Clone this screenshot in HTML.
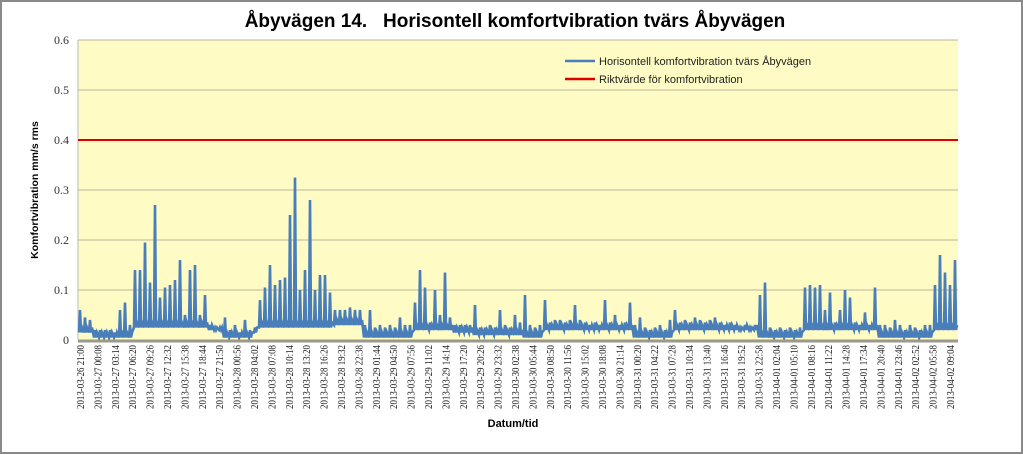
<!DOCTYPE html>
<html><head><meta charset="utf-8"><style>
html,body{margin:0;padding:0;background:#fff}
svg{display:block;font-family:"Liberation Sans",sans-serif}
</style></head><body>
<svg id="chart" width="1023" height="455" viewBox="0 0 1023 455" xmlns="http://www.w3.org/2000/svg">
<rect x="1" y="1" width="1021" height="452" fill="#fff" stroke="#8a8a8a" stroke-width="2"/>
<text x="515" y="27" text-anchor="middle" font-size="19" font-weight="bold" fill="#000" xml:space="preserve">Åbyvägen 14.   Horisontell komfortvibration tvärs Åbyvägen</text>
<rect x="78" y="40" width="880" height="300" fill="#fefcc4"/>
<g id="grid"></g>
<g id="yticks"></g>
<g id="xticks"></g>
<g id="series"></g>
<text transform="translate(38,190) rotate(-90)" text-anchor="middle" font-size="10.5" font-weight="bold" fill="#000">Komfortvibration mm/s rms</text>
<text x="513" y="427" text-anchor="middle" font-size="11" font-weight="bold" fill="#000">Datum/tid</text>
<g>
<line x1="565" y1="61" x2="595" y2="61" stroke="#4a7ebb" stroke-width="2.5"/>
<text x="599" y="65" font-size="11" fill="#222">Horisontell komfortvibration tvärs Åbyvägen</text>
<line x1="565" y1="79" x2="595" y2="79" stroke="#e00000" stroke-width="2.5"/>
<text x="599" y="83" font-size="11" fill="#222">Riktvärde för komfortvibration</text>
</g>
</svg>
<script>
const yTicks = [0, 0.1, 0.2, 0.3, 0.4, 0.5, 0.6];
const yTickLabels = ["0", "0.1", "0.2", "0.3", "0.4", "0.5", "0.6"];
const xLabels = ["2013-03-26 21:00","2013-03-27 00:08","2013-03-27 03:14","2013-03-27 06:20","2013-03-27 09:26","2013-03-27 12:32","2013-03-27 15:38","2013-03-27 18:44","2013-03-27 21:50","2013-03-28 00:56","2013-03-28 04:02","2013-03-28 07:08","2013-03-28 10:14","2013-03-28 13:20","2013-03-28 16:26","2013-03-28 19:32","2013-03-28 22:38","2013-03-29 01:44","2013-03-29 04:50","2013-03-29 07:56","2013-03-29 11:02","2013-03-29 14:14","2013-03-29 17:20","2013-03-29 20:26","2013-03-29 23:32","2013-03-30 02:38","2013-03-30 05:44","2013-03-30 08:50","2013-03-30 11:56","2013-03-30 15:02","2013-03-30 18:08","2013-03-30 21:14","2013-03-31 00:20","2013-03-31 04:22","2013-03-31 07:28","2013-03-31 10:34","2013-03-31 13:40","2013-03-31 16:46","2013-03-31 19:52","2013-03-31 22:58","2013-04-01 02:04","2013-04-01 05:10","2013-04-01 08:16","2013-04-01 11:22","2013-04-01 14:28","2013-04-01 17:34","2013-04-01 20:40","2013-04-01 23:46","2013-04-02 02:52","2013-04-02 05:58","2013-04-02 09:04"];
const peakValues = [0.06,0.045,0.04,0.02,0.02,0.02,0.02,0.015,0.06,0.075,0.03,0.14,0.14,0.195,0.115,0.27,0.085,0.105,0.11,0.12,0.16,0.05,0.14,0.15,0.05,0.09,0.03,0.025,0.025,0.045,0.02,0.03,0.015,0.04,0.02,0.025,0.08,0.105,0.15,0.11,0.12,0.125,0.25,0.325,0.1,0.14,0.28,0.1,0.13,0.13,0.095,0.06,0.06,0.06,0.065,0.06,0.06,0.03,0.06,0.025,0.03,0.025,0.03,0.025,0.045,0.03,0.03,0.075,0.14,0.105,0.035,0.1,0.05,0.135,0.045,0.03,0.03,0.03,0.03,0.07,0.025,0.025,0.03,0.025,0.06,0.03,0.025,0.05,0.035,0.09,0.03,0.025,0.03,0.08,0.035,0.04,0.04,0.035,0.04,0.07,0.04,0.035,0.03,0.035,0.03,0.08,0.035,0.05,0.03,0.035,0.075,0.03,0.045,0.025,0.02,0.025,0.03,0.02,0.04,0.06,0.035,0.04,0.035,0.045,0.04,0.035,0.04,0.045,0.035,0.03,0.035,0.03,0.025,0.03,0.025,0.03,0.09,0.115,0.025,0.02,0.025,0.02,0.025,0.02,0.025,0.105,0.11,0.105,0.11,0.06,0.095,0.035,0.06,0.1,0.085,0.035,0.03,0.055,0.03,0.105,0.03,0.03,0.025,0.04,0.03,0.02,0.03,0.025,0.02,0.03,0.03,0.11,0.17,0.135,0.11,0.16];
const baseValues = [0.015,0.015,0.015,0.005,0.005,0.005,0.005,0.005,0.005,0.005,0.005,0.025,0.025,0.025,0.025,0.025,0.025,0.025,0.025,0.025,0.025,0.025,0.025,0.025,0.025,0.025,0.02,0.02,0.02,0.005,0.005,0.005,0.005,0.005,0.005,0.015,0.025,0.025,0.025,0.025,0.025,0.025,0.025,0.025,0.025,0.025,0.025,0.025,0.025,0.025,0.025,0.03,0.03,0.03,0.03,0.03,0.03,0.005,0.005,0.005,0.005,0.005,0.005,0.005,0.005,0.005,0.005,0.02,0.02,0.02,0.02,0.02,0.02,0.02,0.02,0.015,0.015,0.015,0.015,0.01,0.01,0.01,0.01,0.01,0.01,0.01,0.01,0.01,0.01,0.005,0.005,0.005,0.005,0.02,0.02,0.02,0.02,0.02,0.02,0.02,0.02,0.02,0.02,0.02,0.02,0.02,0.02,0.02,0.02,0.02,0.02,0.005,0.005,0.005,0.005,0.005,0.005,0.005,0.005,0.02,0.02,0.02,0.02,0.02,0.02,0.02,0.02,0.02,0.02,0.02,0.02,0.02,0.02,0.02,0.02,0.02,0.005,0.005,0.005,0.005,0.005,0.005,0.005,0.005,0.005,0.02,0.02,0.02,0.02,0.02,0.02,0.02,0.02,0.02,0.02,0.02,0.02,0.02,0.02,0.02,0.005,0.005,0.005,0.005,0.005,0.005,0.005,0.005,0.005,0.005,0.005,0.02,0.02,0.02,0.02,0.02];
const limitValue = [0.4];

const NS = "http://www.w3.org/2000/svg";
const X0 = 78, X1 = 958, Y0 = 340, Y1 = 40, YMAX = 0.6;
function yScale(v){ return Y0 - (v / YMAX) * (Y0 - Y1); }
function xSlot(i, n){ return X0 + (i / n) * (X1 - X0); }
function xLabel(i){ return 80 + i * (950 - 80) / (xLabels.length - 1); }

const grid = document.getElementById('grid');
const yt = document.getElementById('yticks');
yTicks.forEach((v, i) => {
  if (v > 0) {
    const l = document.createElementNS(NS, 'line');
    
    
    l.setAttribute('x1', X0); l.setAttribute('x2', X1);
    l.setAttribute('y1', yScale(v)); l.setAttribute('y2', yScale(v));
    l.setAttribute('stroke', '#c9c3a3'); l.setAttribute('stroke-width', '1.2');
    grid.appendChild(l);
  }
  const t = document.createElementNS(NS, 'text');
  
  
  t.setAttribute('x', 69); t.setAttribute('y', yScale(v) + 4);
  t.setAttribute('text-anchor', 'end');
  t.setAttribute('font-size', '12');
  t.setAttribute('font-family', '"Liberation Serif", serif');
  t.setAttribute('fill', '#333');
  t.textContent = yTickLabels[i];
  yt.appendChild(t);
});
const axisLeft = document.createElementNS(NS, 'line');


axisLeft.setAttribute('x1', X0); axisLeft.setAttribute('x2', X0);
axisLeft.setAttribute('y1', Y1); axisLeft.setAttribute('y2', Y0);
axisLeft.setAttribute('stroke', '#bbb');
grid.appendChild(axisLeft);

const xt = document.getElementById('xticks');
xLabels.forEach((s, i) => {
  const t = document.createElementNS(NS, 'text');
  
  
  const x = xLabel(i) + 4;
  t.setAttribute('transform', 'translate(' + x + ',345) rotate(-90)');
  t.setAttribute('text-anchor', 'end');
  t.setAttribute('font-size', '10.5');
  t.setAttribute('textLength', '64');
  t.setAttribute('lengthAdjust', 'spacingAndGlyphs');
  t.setAttribute('font-family', '"Liberation Serif", serif');
  t.setAttribute('fill', '#222');
  t.textContent = s;
  xt.appendChild(t);
});

const ser = document.getElementById('series');
const n = peakValues.length;
let pts = [];
for (let i = 0; i < n; i++) {
  const x = xSlot(i, n), w = (X1 - X0) / n;
  pts.push([x + 0.2 * w, yScale(baseValues[i])]);
  pts.push([x + 0.4 * w, yScale(peakValues[i])]);
  pts.push([x + 0.6 * w, yScale(baseValues[i])]);
  pts.push([x + 0.8 * w, yScale(Math.min(peakValues[i], baseValues[i] + 0.01))]);
}
const path = document.createElementNS(NS, 'polyline');


path.setAttribute('points', pts.map(p => p[0].toFixed(1) + ',' + p[1].toFixed(1)).join(' '));
path.setAttribute('fill', 'none');
path.setAttribute('stroke', '#4a7ebb');
path.setAttribute('stroke-width', '2.6');
path.setAttribute('stroke-linejoin', 'miter');
ser.appendChild(path);

const lim = document.createElementNS(NS, 'line');


lim.setAttribute('x1', X0); lim.setAttribute('x2', X1);
lim.setAttribute('y1', yScale(limitValue[0])); lim.setAttribute('y2', yScale(limitValue[0]));
lim.setAttribute('stroke', '#e00000'); lim.setAttribute('stroke-width', '2');
ser.appendChild(lim);

const base = document.createElementNS(NS, 'line');


base.setAttribute('x1', X0); base.setAttribute('x2', X1);
base.setAttribute('y1', Y0 + 1); base.setAttribute('y2', Y0 + 1);
base.setAttribute('stroke', '#9a9a8a'); base.setAttribute('stroke-width', '3');
ser.appendChild(base);
</script>
</body></html>
